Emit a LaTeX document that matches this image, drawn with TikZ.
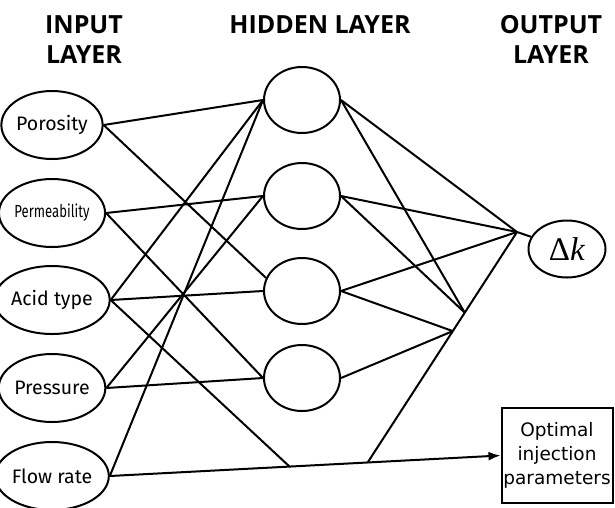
\documentclass[tikz,border=0pt]{standalone}
\usepackage{fontspec}
\usepackage{tikz}
\usetikzlibrary{shapes}
\usetikzlibrary{arrows,arrows.meta}
\usetikzlibrary{calc}
\newfontfamily\titlefont{Open Sans}
\newfontfamily\labelfont{Fira Sans}
\newfontfamily\narrowfont[FakeStretch=0.75]{Fira Sans}
\newfontfamily\boxfont{DejaVu Sans}
\newfontfamily\greekfont{Liberation Serif}
\tikzset{
  layer_title/.style = {align=center, inner sep=0pt, anchor=north,
    font=\titlefont\bfseries\fontsize{25}{30}\selectfont},% titres des couches
  net_node/.style = {ellipse, draw=black, line width=2pt, inner sep=0pt},
  input_node/.style = {net_node, minimum width=80pt, minimum height=68pt,
    font=\labelfont\fontsize{19.5}{22}\selectfont},% couche d'entree
  hidden_node/.style = {net_node, minimum width=76pt, minimum height=66pt},% couche cachee
  output_node/.style = {net_node, minimum width=77pt, minimum height=57pt,
    font=\greekfont\fontsize{33}{36}\selectfont},% couche de sortie
  result_box/.style = {rectangle, draw=black, line width=2pt, align=center,
    minimum width=111pt, minimum height=95pt, inner sep=0pt,
    font=\boxfont\fontsize{18.5}{24}\selectfont},% parametres optimaux
  link/.style = {line width=2pt}
}
\begin{document}
\begin{tikzpicture}[x=1pt, y=-1pt]
    \useasboundingbox (0,0) rectangle (615,507);
    % titres
    \node [layer_title] (t_input) at (84,15) {INPUT\\LAYER};
    \node [layer_title] (t_hidden) at (320,15) {HIDDEN LAYER};
    \node [layer_title] (t_output) at (551,15) {OUTPUT\\LAYER};
    % couche d'entree
    \node [input_node] (porosity) at (52,125) {Porosity};
    \node [input_node, font=\narrowfont\fontsize{17.5}{20}\selectfont] (permeability) at (52,213) {Permeability};
    \node [input_node] (acid) at (52,300) {Acid type};
    \node [input_node] (pressure) at (52,388) {Pressure};
    \node [input_node] (flow) at (52,476) {Flow rate};
    % couche cachee
    \node [hidden_node] (hidden_1) at (302,100) {};
    \node [hidden_node] (hidden_2) at (302,196) {};
    \node [hidden_node] (hidden_3) at (302,291) {};
    \node [hidden_node] (hidden_4) at (302,378) {};
    % sorties
    \node [output_node] (delta_k) at (567,249) {Δ\textit{k}};
    \node [result_box] (optimal) at (557,455.5) {Optimal\\injection\\parameters};
    % points de jonction
    \coordinate (join_out) at (517,232);
    \coordinate (join_a) at ($(flow.east)!0.46!(optimal.west)$);
    \coordinate (join_b) at ($(flow.east)!0.66!(optimal.west)$);
    \coordinate (join_c) at ($(join_out)!0.35!(join_b)$);
    \coordinate (join_d) at ($(join_out)!0.43!(join_b)$);
    % entree -> cachee
    \draw [link] (porosity.east) -- (hidden_1.west);
    \draw [link] (porosity.east) -- (hidden_3.160);
    \draw [link] (permeability.east) -- (hidden_2.west);
    \draw [link] (permeability.east) -- (hidden_4.west);
    \draw [link] (acid.east) -- (hidden_1.west);
    \draw [link] (acid.east) -- (hidden_3.west);
    \draw [link] (acid.east) -- (join_a);
    \draw [link] (pressure.east) -- (hidden_2.west);
    \draw [link] (pressure.east) -- (hidden_4.west);
    \draw [link] (flow.east) -- (hidden_1.west);
    \draw [link, -{Latex[length=12pt,width=9pt]}] (flow.east) -- (optimal.west);
    % cachee -> sortie
    \draw [link] (hidden_1.east) -- (join_out);
    \draw [link] (hidden_1.east) -- (join_c);
    \draw [link] (hidden_2.east) -- (join_out);
    \draw [link] (hidden_2.east) -- (join_c);
    \draw [link] (hidden_3.east) -- (join_out);
    \draw [link] (hidden_3.east) -- (join_d);
    \draw [link] (hidden_4.east) -- (join_d);
    \draw [link] (join_out) -- (join_b);
    \draw [link] (join_out) -- (delta_k);
\end{tikzpicture}
\end{document}
